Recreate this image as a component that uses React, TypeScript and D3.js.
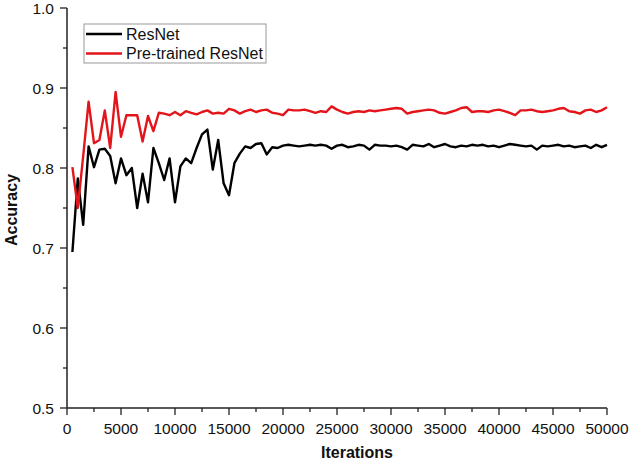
import React from 'react';
import * as d3 from 'd3';

const iterations = [
  500, 1000, 1500, 2000, 2500, 3000, 3500, 4000, 4500, 5000,
  5500, 6000, 6500, 7000, 7500, 8000, 8500, 9000, 9500, 10000,
  10500, 11000, 11500, 12000, 12500, 13000, 13500, 14000, 14500, 15000,
  15500, 16000, 16500, 17000, 17500, 18000, 18500, 19000, 19500, 20000,
  20500, 21000, 21500, 22000, 22500, 23000, 23500, 24000, 24500, 25000,
  25500, 26000, 26500, 27000, 27500, 28000, 28500, 29000, 29500, 30000,
  30500, 31000, 31500, 32000, 32500, 33000, 33500, 34000, 34500, 35000,
  35500, 36000, 36500, 37000, 37500, 38000, 38500, 39000, 39500, 40000,
  40500, 41000, 41500, 42000, 42500, 43000, 43500, 44000, 44500, 45000,
  45500, 46000, 46500, 47000, 47500, 48000, 48500, 49000, 49500, 50000,
];

const resnet = [
  0.695, 0.787, 0.729, 0.827, 0.801, 0.823, 0.824, 0.815, 0.781, 0.812,
  0.791, 0.800, 0.750, 0.793, 0.757, 0.825, 0.806, 0.785, 0.812, 0.757,
  0.802, 0.812, 0.806, 0.825, 0.842, 0.848, 0.798, 0.835, 0.781, 0.766,
  0.806, 0.818, 0.827, 0.825, 0.830, 0.831, 0.817, 0.826, 0.825, 0.828,
  0.829, 0.828, 0.827, 0.828, 0.829, 0.828, 0.829, 0.828, 0.824, 0.828,
  0.829, 0.826, 0.827, 0.829, 0.828, 0.823, 0.829, 0.828, 0.828, 0.827,
  0.828, 0.826, 0.823, 0.829, 0.828, 0.827, 0.830, 0.826, 0.828, 0.830,
  0.827, 0.826, 0.828, 0.827, 0.829, 0.828, 0.829, 0.827, 0.828, 0.826,
  0.828, 0.830, 0.829, 0.828, 0.827, 0.828, 0.823, 0.828, 0.827, 0.828,
  0.829, 0.827, 0.828, 0.826, 0.827, 0.828, 0.825, 0.829, 0.826, 0.829,
];

const pretrained = [
  0.801, 0.750, 0.815, 0.883, 0.831, 0.835, 0.872, 0.825, 0.895, 0.839,
  0.866, 0.866, 0.866, 0.833, 0.865, 0.846, 0.869, 0.868, 0.866, 0.870,
  0.866, 0.871, 0.869, 0.867, 0.870, 0.872, 0.868, 0.869, 0.868, 0.874,
  0.872, 0.868, 0.871, 0.873, 0.870, 0.872, 0.873, 0.869, 0.868, 0.866,
  0.873, 0.872, 0.872, 0.873, 0.871, 0.869, 0.871, 0.870, 0.877, 0.873,
  0.870, 0.868, 0.870, 0.871, 0.870, 0.872, 0.871, 0.872, 0.873, 0.874,
  0.875, 0.874, 0.868, 0.870, 0.871, 0.872, 0.873, 0.872, 0.869, 0.868,
  0.870, 0.872, 0.875, 0.876, 0.870, 0.871, 0.871, 0.870, 0.872, 0.873,
  0.871, 0.869, 0.866, 0.872, 0.872, 0.873, 0.871, 0.870, 0.871, 0.872,
  0.874, 0.875, 0.871, 0.870, 0.868, 0.872, 0.873, 0.870, 0.872, 0.876,
];

const xTicks = [0, 5000, 10000, 15000, 20000, 25000, 30000, 35000, 40000, 45000, 50000];
const yTicks = [0.5, 0.6, 0.7, 0.8, 0.9, 1.0];

const series = [
  { name: 'ResNet', values: resnet, color: '#000000' },
  { name: 'Pre-trained ResNet', values: pretrained, color: '#e3151b' },
];

const width = 630;
const height = 461;
const margin = { left: 67, right: 23, top: 8, bottom: 53 };
const font = 'Arial, "Liberation Sans", sans-serif';

export default function App() {
  const xScale = d3.scaleLinear().domain([0, 50000]).range([margin.left, width - margin.right]);
  const yScale = d3.scaleLinear().domain([0.5, 1.0]).range([height - margin.bottom, margin.top]);
  const x0 = xScale(0);
  const y0 = yScale(0.5);

  const line = d3.line<number>()
    .x((_, i) => xScale(iterations[i]))
    .y(d => yScale(d));

  const xMinor = xTicks.slice(0, -1).map(t => t + 2500);
  const yMinor = yTicks.slice(0, -1).map(t => t + 0.05);

  return (
    <svg width={width} height={height} style={{ position: 'absolute', left: 0, top: 0, background: '#fff' }}>
      {series.map(s => (
        <path key={s.name} d={line(s.values) || ''} fill="none" stroke={s.color}
          strokeWidth={2.4} strokeLinejoin="round" />
      ))}

      {/* axes */}
      <line x1={x0} x2={x0} y1={yScale(1.0)} y2={y0} stroke="#222" strokeWidth={1.5} />
      <line x1={x0} x2={xScale(50000)} y1={y0} y2={y0} stroke="#222" strokeWidth={1.5} />

      {yTicks.map(t => (
        <g key={'y' + t}>
          <line x1={x0 - 7} x2={x0} y1={yScale(t)} y2={yScale(t)} stroke="#222" strokeWidth={1.3} />
          <text x={x0 - 13} y={yScale(t)} dy="0.36em" textAnchor="end" fontFamily={font} fontSize={15.5} fill="#111">
            {t.toFixed(1)}
          </text>
        </g>
      ))}
      {yMinor.map(t => (
        <line key={'ym' + t} x1={x0 - 4} x2={x0} y1={yScale(t)} y2={yScale(t)} stroke="#222" strokeWidth={1.3} />
      ))}

      {xTicks.map(t => (
        <g key={'x' + t}>
          <line x1={xScale(t)} x2={xScale(t)} y1={y0} y2={y0 + 7} stroke="#222" strokeWidth={1.3} />
          <text x={xScale(t)} y={y0 + 26} textAnchor="middle" fontFamily={font} fontSize={15.5} fill="#111">
            {t}
          </text>
        </g>
      ))}
      {xMinor.map(t => (
        <line key={'xm' + t} x1={xScale(t)} x2={xScale(t)} y1={y0} y2={y0 + 4} stroke="#222" strokeWidth={1.3} />
      ))}

      <text x={357} y={458} textAnchor="middle" fontFamily={font} fontSize={16} fontWeight="bold" fill="#111">
        Iterations
      </text>
      <text transform="translate(17,210) rotate(-90)" textAnchor="middle" fontFamily={font} fontSize={16}
        fontWeight="bold" fill="#111">
        Accuracy
      </text>

      {/* legend */}
      <rect x={84} y={24} width={182} height={39} fill="#fff" stroke="#999" strokeWidth={1} />
      {series.map((s, i) => (
        <g key={'lg' + s.name} transform={`translate(86,${34 + i * 19.5})`}>
          <line x1={0} x2={36} y1={0} y2={0} stroke={s.color} strokeWidth={2.4} />
          <text x={40} y={0} dy="0.36em" fontFamily={font} fontSize={16} fill="#111">{s.name}</text>
        </g>
      ))}
    </svg>
  );
}
